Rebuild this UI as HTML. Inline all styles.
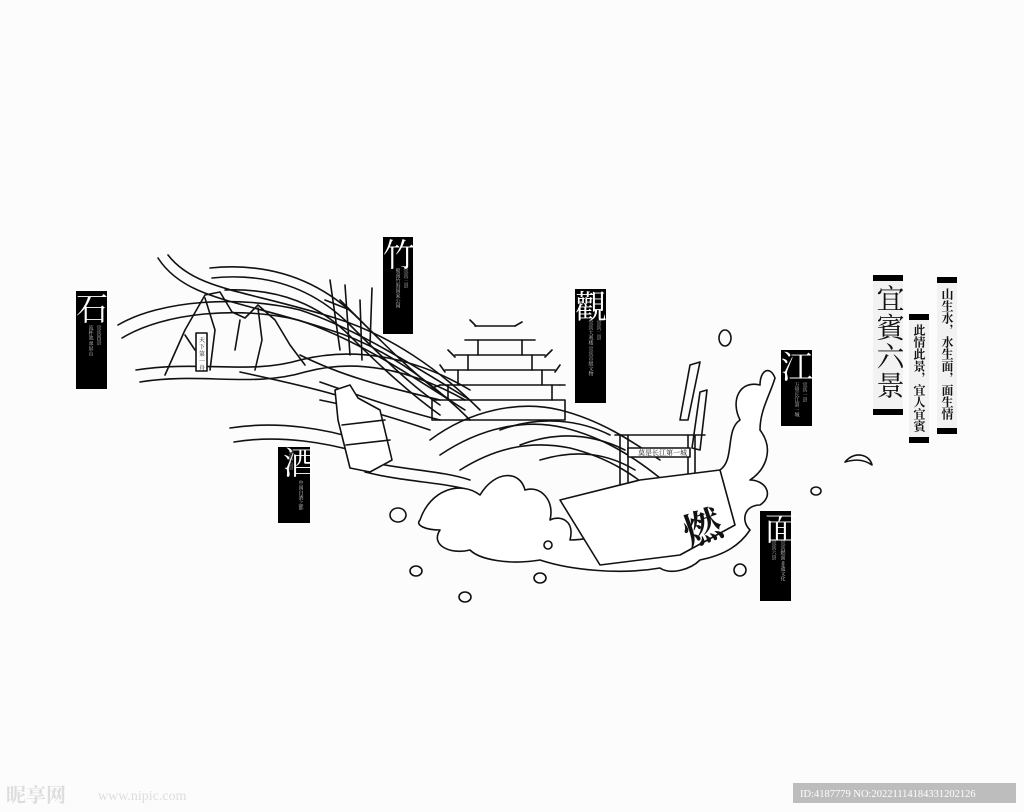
<!DOCTYPE html>
<html><head><meta charset="utf-8"><style>
html,body{margin:0;padding:0;background:#fcfcfc;}
svg{display:block}
text{font-family:"Liberation Serif","Noto Serif CJK SC",serif;}
</style></head><body>
<svg width="1024" height="812" viewBox="0 0 1024 812" xmlns="http://www.w3.org/2000/svg">
<rect width="1024" height="812" fill="#fcfcfc"/>
<g fill="none" stroke="#111" stroke-width="1.6" stroke-linejoin="round" stroke-linecap="round">
<!-- ribbons -->
<path d="M158 258 C185 300 240 300 330 330 C380 345 430 380 470 420"/>
<path d="M168 255 C195 290 245 290 335 318 C390 335 440 370 480 410"/>
<path d="M210 268 C270 262 320 280 360 320 C390 350 420 380 450 400"/>
<path d="M212 278 C270 272 315 290 350 325 C380 355 410 385 440 405"/>
<path d="M225 290 C280 288 320 305 352 338 C382 368 412 395 440 415"/>
<path d="M118 325 C160 300 240 295 300 310 C360 330 420 370 470 400"/>
<path d="M122 338 C165 312 240 306 298 320 C355 338 415 378 465 410"/>
<path d="M136 370 C200 360 250 375 300 360 C360 345 420 360 470 390"/>
<path d="M140 382 C200 372 252 388 305 372 C360 357 415 372 465 400"/>
<path d="M230 428 C280 420 330 430 360 440"/>
<path d="M234 442 C282 434 330 444 358 452"/>
<path d="M300 355 C350 380 400 390 440 400"/>
<path d="M240 372 C300 385 340 395 350 400"/>
<path d="M320 382 C360 396 400 410 440 420"/>
<path d="M320 400 C370 410 400 420 430 430"/>
<path d="M360 460 C400 470 440 470 470 480"/>
<path d="M365 472 C405 482 440 482 470 490"/>
<!-- mountains -->
<path d="M165 375 L185 330 L205 295 L220 292 L232 312 L245 318 L258 305 L275 320 L290 345 L305 365"/>
<path d="M185 335 L195 350 M205 298 L215 330 L210 370 M258 308 L262 340 L255 370 M240 320 L235 350"/>
<rect x="196" y="333" width="11" height="38" fill="#fff"/>
<!-- bamboo -->
<path d="M330 280 L340 350 M345 285 L350 355 M360 300 L362 360 M372 288 L370 345 M340 300 L360 320 M325 300 L350 310"/>
<!-- bottle -->
<path d="M335 390 L350 385 L358 398 L380 410 L392 460 L370 472 L350 468 L338 420 Z" fill="#fff"/>
<path d="M342 425 L385 420 M346 445 L390 440"/>
<!-- tower -->
<path d="M432 400 L565 400 L565 420 L432 420 Z M440 385 L560 385 M445 370 L555 370 M455 355 L545 355 M465 340 L535 340 M475 326 L515 326"/>
<path d="M448 400 L448 385 M552 400 L552 385 M458 385 L458 370 M542 385 L542 370 M468 370 L468 355 M532 370 L532 355 M478 355 L478 340 M522 355 L522 340"/>
<path d="M432 388 L440 385 M565 385 L560 385 M445 372 L440 365 M555 372 L560 365 M455 357 L448 350 M545 357 L552 350 M476 326 L470 320 M515 326 L522 322"/>
<!-- waves -->
<path d="M430 440 C470 410 520 400 560 410 C600 420 630 440 660 460"/>
<path d="M440 455 C480 428 525 418 565 428 C605 438 635 458 660 478"/>
<path d="M460 470 C495 448 530 440 570 448 C610 458 640 478 655 495"/>
<path d="M500 430 C540 415 580 420 610 435"/>
<path d="M520 445 C560 430 595 435 625 450"/>
<path d="M540 460 C580 448 610 455 635 470"/>
<!-- arch -->
<path d="M615 435 L705 435 M620 435 L620 510 M628 435 L628 510 M695 435 L695 500 M688 435 L688 500"/>
<rect x="628" y="448" width="62" height="9" fill="#fff"/>
<!-- splash -->
<path d="M420 520 C430 490 460 480 480 495 C495 470 520 470 525 490 C540 485 555 500 550 520 C560 515 575 520 570 540 C600 540 620 525 640 510 C660 495 690 485 720 470 C735 460 725 430 740 420 C730 400 740 380 760 385 C760 370 770 365 775 378 C770 395 760 410 760 430 C775 450 765 470 750 480 C765 480 775 495 760 505 C745 505 740 520 750 530 C740 545 725 555 700 560 C690 570 670 575 660 568 C620 575 570 570 540 560 C510 565 480 560 470 550 C450 555 430 545 440 530 C425 530 415 525 420 520 Z" fill="#fff"/>
<path d="M560 500 L640 480 L720 470 L735 525 L680 555 L600 565 Z" fill="#fff"/>
<path d="M690 365 L700 362 L688 420 L680 420 Z M700 392 L707 390 L700 450 L692 448 Z"/>
<ellipse cx="725" cy="338" rx="6" ry="8"/><ellipse cx="816" cy="491" rx="5" ry="4"/><ellipse cx="740" cy="570" rx="6" ry="6"/>
<ellipse cx="398" cy="515" rx="8" ry="7"/><ellipse cx="416" cy="571" rx="6" ry="5"/><ellipse cx="465" cy="597" rx="6" ry="5"/><ellipse cx="540" cy="578" rx="6" ry="5"/><ellipse cx="548" cy="545" rx="4" ry="4"/>
<path d="M845 462 C855 450 870 455 872 465 C862 458 852 460 845 462 Z"/>
</g>
<text x="683" y="548" font-size="38" font-weight="bold" fill="#111" transform="rotate(-20 683 530)">燃</text>
<g font-size="6" fill="#111"><text x="199" y="342">天</text><text x="199" y="349">下</text><text x="199" y="356">第</text><text x="199" y="363">一</text><text x="199" y="370">舟</text></g>
<text x="638" y="455" font-size="7" fill="#111">莫是长江第一城</text>
<!-- black labels -->
<g fill="#000">
<rect x="76" y="291" width="31" height="98"/>
<rect x="383" y="237" width="30" height="97"/>
<rect x="575" y="289" width="31" height="114"/>
<rect x="781" y="350" width="31" height="76"/>
<rect x="278" y="447" width="32" height="76"/>
<rect x="760" y="511" width="31" height="90"/>
</g>
<g fill="#fff" font-size="32">
<text x="76" y="320">石</text>
<text x="383" y="266">竹</text>
<text x="575" y="318">觀</text>
<text x="781" y="378">江</text>
<text x="283" y="474">酒</text>
<text x="765" y="540">面</text>
</g>
<g fill="#ccc" font-size="5" writing-mode="tb">
<text x="98" y="325">宜宾四景</text><text x="90" y="325">流杯池 翠屏山</text>
<text x="405" y="268">宜宾三景</text><text x="397" y="268">蜀南竹海国家公园</text>
<text x="598" y="320">宜宾二景</text><text x="590" y="320">宜宾大观楼 宜宾市级文物</text>
<text x="804" y="382">宜宾一景</text><text x="796" y="382">万里长江第一城</text>
<text x="290" y="450">宜宾五景</text><text x="300" y="480">中国白酒之都</text>
<text x="773" y="540">宜宾六景</text><text x="782" y="540">宜宾燃面 非遗文化</text>
</g>
<!-- right titles -->
<rect x="873" y="275" width="30" height="140" fill="#f2f2f2"/>
<rect x="873" y="275" width="30" height="6" fill="#000"/><rect x="873" y="409" width="30" height="6" fill="#000"/>
<text x="888" y="284" font-size="28" fill="#111" writing-mode="tb" letter-spacing="1">宜賓六景</text>
<rect x="909" y="314" width="20" height="129" fill="#f2f2f2"/>
<rect x="909" y="314" width="20" height="6" fill="#000"/><rect x="909" y="437" width="20" height="6" fill="#000"/>
<text x="919" y="324" font-size="12" font-weight="bold" fill="#111" writing-mode="tb">此情此景，宜人宜賓</text>
<rect x="937" y="277" width="20" height="157" fill="#f2f2f2"/>
<rect x="937" y="277" width="20" height="6" fill="#000"/><rect x="937" y="428" width="20" height="6" fill="#000"/>
<text x="947" y="288" font-size="12" font-weight="bold" fill="#111" writing-mode="tb">山生水，水生面，面生情</text>
<!-- watermark -->
<rect x="793" y="783" width="223" height="20" fill="#bdbdbd"/>
<text x="800" y="797" font-family="Liberation Sans, sans-serif" font-size="10.5" fill="#fff">ID:4187779 NO:20221114184331202126</text>
<text x="6" y="802" font-family="Liberation Sans, Noto Sans CJK SC, sans-serif" font-size="20" font-weight="bold" fill="#ddd">昵享网</text>
<text x="98" y="800" font-family="Liberation Sans, sans-serif" font-size="14" fill="#ddd">www.nipic.com</text>
</svg>
</body></html>
